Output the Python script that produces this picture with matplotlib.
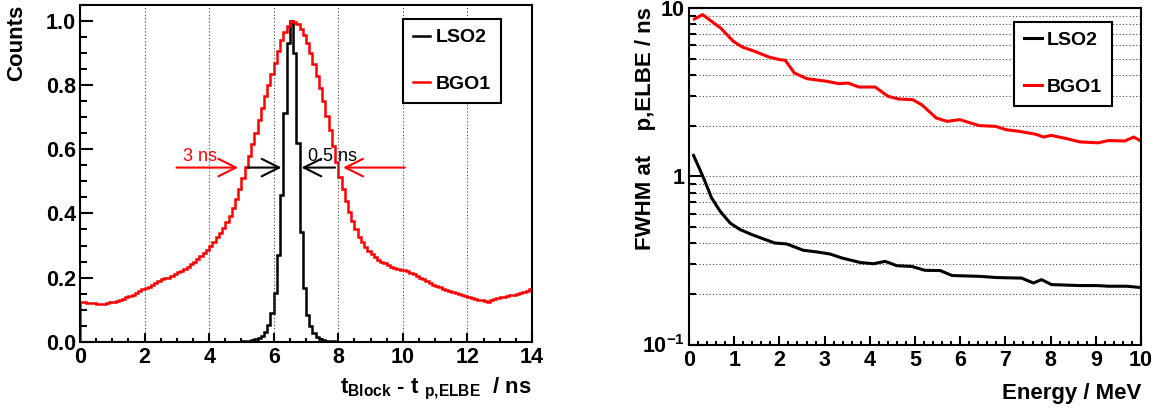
import numpy as np
import matplotlib
matplotlib.use('Agg')
import matplotlib.pyplot as plt
from matplotlib.ticker import MultipleLocator, FixedLocator, FixedFormatter, NullFormatter

plt.rcParams['font.family'] = ['Liberation Sans', 'DejaVu Sans']
plt.rcParams['font.weight'] = 'bold'
plt.rcParams['mathtext.fontset'] = 'custom'
plt.rcParams['mathtext.rm'] = 'Liberation Sans:bold'
plt.rcParams['mathtext.it'] = 'Liberation Sans:bold'
plt.rcParams['mathtext.bf'] = 'Liberation Sans:bold'

# left panel: time difference histograms, 0.1 ns bins from 0 to 14 ns
bin_edges = np.round(np.arange(0, 14.05, 0.1), 2)

bgo1_counts = [
    0.125, 0.123, 0.122, 0.121, 0.120, 0.119, 0.118, 0.119, 0.121, 0.123,
    0.125, 0.127, 0.130, 0.134, 0.138, 0.142, 0.147, 0.153, 0.159, 0.164,
    0.168, 0.172, 0.177, 0.183, 0.190, 0.196, 0.198, 0.200, 0.204, 0.210,
    0.216, 0.221, 0.227, 0.234, 0.242, 0.250, 0.258, 0.267, 0.276, 0.287,
    0.298, 0.312, 0.325, 0.340, 0.355, 0.372, 0.393, 0.418, 0.445, 0.475,
    0.510, 0.545, 0.580, 0.615, 0.650, 0.690, 0.730, 0.765, 0.800, 0.835,
    0.870, 0.905, 0.940, 0.965, 0.985, 1.000, 0.998, 0.990, 0.975, 0.955,
    0.930, 0.900, 0.865, 0.830, 0.790, 0.750, 0.705, 0.660, 0.610, 0.560,
    0.515, 0.475, 0.440, 0.405, 0.375, 0.350, 0.328, 0.310, 0.295, 0.283,
    0.273, 0.264, 0.256, 0.250, 0.244, 0.239, 0.234, 0.230, 0.227, 0.225,
    0.223, 0.219, 0.214, 0.210, 0.205, 0.200, 0.195, 0.189, 0.183, 0.178,
    0.174, 0.170, 0.165, 0.161, 0.157, 0.154, 0.151, 0.148, 0.145, 0.142,
    0.139, 0.136, 0.133, 0.131, 0.129, 0.128, 0.124, 0.130, 0.133, 0.135,
    0.138, 0.140, 0.142, 0.145, 0.147, 0.150, 0.152, 0.154, 0.157, 0.163,
]

# LSO2 is empty outside 5.0 - 8.0 ns
lso2_start_bin = 50
lso2_peak = [
    0.001, 0.001, 0.002, 0.004, 0.007, 0.011, 0.017, 0.030, 0.052, 0.088,
    0.151, 0.270, 0.457, 0.712, 0.930, 1.000, 0.900, 0.620, 0.343, 0.166,
    0.083, 0.049, 0.026, 0.016, 0.009, 0.005, 0.003, 0.002, 0.001, 0.000,
]

# right panel: FWHM vs energy
lso2_energy = [0.1, 0.32, 0.5, 0.69, 0.91, 1.13, 1.39, 1.65, 1.9, 2.16, 2.53,
               2.83, 3.12, 3.38, 3.79, 4.08, 4.34, 4.6, 4.93, 5.22, 5.56, 5.82,
               6.44, 6.81, 7.36, 7.62, 7.8, 8.02, 8.65, 9.02, 9.28, 9.68, 10.0]
lso2_fwhm = [1.33, 0.98, 0.743, 0.619, 0.527, 0.482, 0.45, 0.424, 0.401, 0.396,
             0.363, 0.355, 0.345, 0.327, 0.307, 0.302, 0.312, 0.294, 0.291,
             0.276, 0.275, 0.257, 0.254, 0.25, 0.248, 0.232, 0.243, 0.227,
             0.224, 0.224, 0.222, 0.222, 0.218]

bgo1_energy = [0.12, 0.3, 0.5, 0.7, 0.98, 1.18, 1.45, 1.77, 2.01, 2.13, 2.33,
               2.61, 3.04, 3.32, 3.52, 3.76, 4.12, 4.4, 4.63, 4.95, 5.15, 5.47,
               5.71, 5.99, 6.42, 6.78, 7.02, 7.3, 7.66, 7.85, 8.01, 8.37, 8.65,
               9.05, 9.28, 9.64, 9.84, 10.0]
bgo1_fwhm = [8.6, 9.13, 8.33, 7.6, 6.34, 5.86, 5.53, 5.11, 4.93, 4.89, 4.11,
             3.8, 3.67, 3.55, 3.58, 3.39, 3.39, 2.99, 2.88, 2.85, 2.66, 2.22,
             2.12, 2.17, 2.0, 1.98, 1.89, 1.85, 1.78, 1.71, 1.75, 1.67, 1.6,
             1.58, 1.63, 1.62, 1.71, 1.62]

lso2_counts = np.zeros(len(bin_edges) - 1)
lso2_counts[lso2_start_bin:lso2_start_bin + len(lso2_peak)] = lso2_peak

W, H = 1163, 409
fig = plt.figure(figsize=(W / 100, H / 100), dpi=100)
ax1 = fig.add_axes([80 / W, 1 - 341.7 / H, 452 / W, 336.7 / H])
ax2 = fig.add_axes([689 / W, 1 - 344.5 / H, 452 / W, 336.5 / H])


def root_style(ax):
    for s in ax.spines.values():
        s.set_linewidth(1.5)
    ax.tick_params(which='both', direction='in', top=False, right=False,
                   width=1.5, labelsize=15.5)
    ax.tick_params(axis='y', which='major', length=9.5, pad=3)
    ax.tick_params(axis='y', which='minor', length=4.8)
    ax.tick_params(axis='x', which='major', length=6.5, pad=4)
    ax.tick_params(axis='x', which='minor', length=3.2)


def root_legend(ax, x0, y0):
    leg = ax.legend(loc='upper left', bbox_to_anchor=(x0, y0, 0.216, 0.0),
                    mode='expand', fontsize=14, frameon=True, fancybox=False,
                    edgecolor='black', framealpha=1, borderaxespad=0,
                    borderpad=0.5, labelspacing=1.5, handlelength=0.9,
                    handletextpad=0.25)
    leg.get_frame().set_linewidth(1.5)
    return leg


# ---- left panel
ax1.stairs(lso2_counts, bin_edges, color='black', lw=1.8, label='LSO2')
ax1.stairs(bgo1_counts, bin_edges, color='red', lw=1.8, label='BGO1')
ax1.set_xlim(0, 14)
ax1.set_ylim(0, 1.05)
ax1.xaxis.set_major_locator(MultipleLocator(2))
ax1.xaxis.set_minor_locator(MultipleLocator(0.5))
ax1.yaxis.set_major_locator(MultipleLocator(0.2))
ax1.yaxis.set_minor_locator(MultipleLocator(0.05))
ax1.yaxis.set_major_formatter(plt.FormatStrFormatter('%.1f'))
ax1.grid(axis='x', which='major', color='#444444', lw=0.8, linestyle=(0, (1, 2)))
root_style(ax1)

arrow_y = 0.543
for x0, x1, c in [(2.99, 4.9, 'red'), (10.06, 8.15, 'red'),
                  (5.19, 6.24, 'black'), (7.9, 6.86, 'black')]:
    ax1.annotate('', xy=(x1, arrow_y), xytext=(x0, arrow_y),
                 arrowprops=dict(arrowstyle='->,head_length=0.9,head_width=0.45',
                                 color=c, lw=1.5, shrinkA=0, shrinkB=0,
                                 mutation_scale=14))
ax1.text(3.2, 0.564, '3 ns', color='red', fontsize=13, fontweight='normal')
ax1.text(7.07, 0.564, '0.5 ns', color='black', fontsize=13, fontweight='normal')

root_legend(ax1, 0.715, 0.958)

fig.text(532 / W, 1 - 393 / H,
         r'$\mathrm{t_{Block}}$ - t $\mathrm{_{p{,}ELBE}}$  / ns',
         ha='right', va='baseline', fontsize=16)
fig.text(17 / W, 1 - 5 / H, 'Counts', rotation=90, ha='center', va='top',
         fontsize=16)

# ---- right panel
ax2.plot(lso2_energy, lso2_fwhm, color='black', lw=2.2, label='LSO2')
ax2.plot(bgo1_energy, bgo1_fwhm, color='red', lw=2.2, label='BGO1')
ax2.set_yscale('log')
ax2.set_xlim(0, 10)
ax2.set_ylim(0.1, 10)
ax2.xaxis.set_major_locator(MultipleLocator(1))
ax2.xaxis.set_minor_locator(MultipleLocator(0.2))
ax2.yaxis.set_major_locator(FixedLocator([0.1, 1, 10]))
ax2.yaxis.set_major_formatter(FixedFormatter([r'$10^{-1}$', '1', '10']))
ax2.yaxis.set_minor_formatter(NullFormatter())
ax2.grid(axis='y', which='both', color='#444444', lw=0.8, linestyle=(0, (1, 2)))
root_style(ax2)
ax2.tick_params(axis='y', which='major', length=10.5)

root_legend(ax2, 0.72, 0.959)

fig.text(1141 / W, 1 - 399 / H, 'Energy / MeV', ha='right', va='baseline',
         fontsize=16)
fig.text(645 / W, 1 - 7 / H, 'FWHM at    p,ELBE / ns', rotation=90,
         ha='center', va='top', fontsize=16)

fig.savefig('out.png', dpi=100)
